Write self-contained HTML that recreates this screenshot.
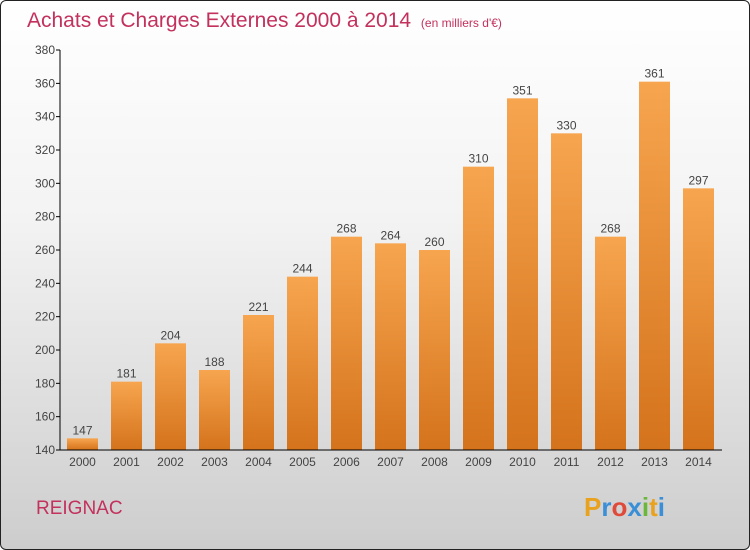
<!DOCTYPE html>
<html><head><meta charset="utf-8"><style>
body{margin:0}
#wrap{width:748px;height:548px;border:1px solid #222;border-radius:6px;background:linear-gradient(#fff,#f3f3f3 40%,#cdcdcd);position:relative;overflow:hidden;font-family:"Liberation Sans",sans-serif}
svg{position:absolute;left:-1px;top:-1px}
</style></head><body>
<div id="wrap">
<svg id="c" width="750" height="550">
<defs><linearGradient id="bg" x1="0" y1="0" x2="0" y2="1"><stop offset="0" stop-color="#f7a54f"/><stop offset="1" stop-color="#d4731c"/></linearGradient></defs>
<text x="27" y="27" font-size="21" fill="#c3315d">Achats et Charges Externes 2000 à 2014 <tspan font-size="12" dx="4">(en milliers d'€)</tspan></text>
<text x="36" y="514" font-size="19" fill="#c3315d">REIGNAC</text>
<text x="584" y="516" font-size="26" font-weight="bold"><tspan fill="#e8a21e">P</tspan><tspan fill="#3a8fd6">r</tspan><tspan fill="#e04a3a">o</tspan><tspan fill="#3a8fd6">x</tspan><tspan fill="#6ab83a">i</tspan><tspan fill="#e8a21e">t</tspan><tspan fill="#3a8fd6">i</tspan></text>
</svg>
</div>
<script>
const categories=["2000","2001","2002","2003","2004","2005","2006","2007","2008","2009","2010","2011","2012","2013","2014"];
const values=[147,181,204,188,221,244,268,264,260,310,351,330,268,361,297];
const ticks=[140,160,180,200,220,240,260,280,300,320,340,360,380];
const svg=document.getElementById('c');const NS='http://www.w3.org/2000/svg';
const y=v=>450-(v-140)*400/240;const x=i=>67+i*44;
function mk(t,a,txt){const e=document.createElementNS(NS,t);for(const k in a)e.setAttribute(k,a[k]);if(txt!==undefined)e.textContent=txt;svg.appendChild(e);return e;}
ticks.forEach(t=>{
 let l=mk('line',{x1:56,x2:60,y1:y(t),y2:y(t),stroke:'#000'});
 
 
 let tx=mk('text',{x:55,y:y(t)+4,'font-size':12,fill:'#444','text-anchor':'end'},t);
 
 
});
values.forEach((v,i)=>{
 let r=mk('rect',{x:x(i),y:y(v),width:31,height:450-y(v),fill:'url(#bg)'});
 
 
 let t=mk('text',{x:x(i)+15.5,y:y(v)-4,'font-size':12,fill:'#444','text-anchor':'middle'},v);
 
 
 let c=mk('text',{x:x(i)+15.5,y:466,'font-size':12,fill:'#444','text-anchor':'middle'},categories[i]);
 
 
});
let ya=mk('line',{x1:60,x2:60,y1:50,y2:450,stroke:'#000'});


let xa=mk('line',{x1:60,x2:722,y1:450,y2:450,stroke:'#000'});


</script>
</body></html>
